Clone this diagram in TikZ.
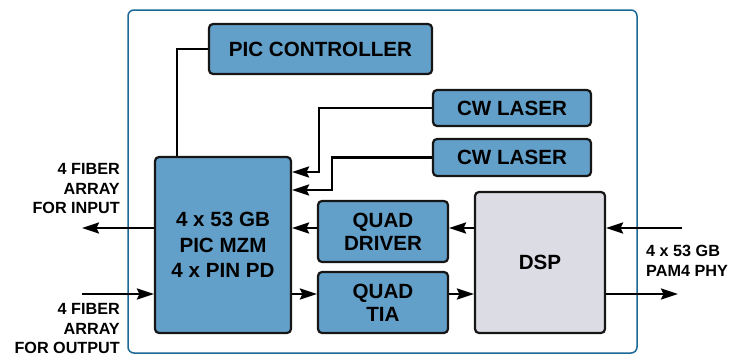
\documentclass[tikz,border=0pt]{standalone}
\usepackage{fontspec}
\setmainfont{Liberation Sans}
\usepackage{xcolor}
\usetikzlibrary{arrows.meta,positioning,calc}

\definecolor{picblue}{RGB}{99,160,201}
\definecolor{dspgray}{RGB}{220,220,228}
\definecolor{framecol}{RGB}{27,104,150}
\definecolor{edgecol}{RGB}{22,22,22}

\begin{document}
\begin{tikzpicture}[x=1pt,y=-1pt,
    >={Stealth[length=17pt,width=11pt,inset=2.5pt]},
    blk/.style={draw=edgecol, line width=2.2pt, fill=picblue, rounded corners=4pt,
        align=center, inner sep=0pt, font=\bfseries\fontsize{20.6}{23}\selectfont},
    dspblk/.style={blk, fill=dspgray},
    conn/.style={draw=black, line width=2.5pt},
    lbl/.style={inner sep=0pt, font=\bfseries\fontsize{16.2}{19.5}\selectfont}]
    \useasboundingbox (0,0) rectangle (744,356);

    % Module frame
    \draw[framecol, line width=1.5pt, rounded corners=6pt] (128,10) rectangle (637,353);

    % Blocks
    \node[blk, minimum width=223pt, minimum height=50pt] (ctrl) at (320.5,49) {PIC CONTROLLER};
    \node[blk, minimum width=158pt, minimum height=36pt] (las1) at (512,108) {CW LASER};
    \node[blk, minimum width=158pt, minimum height=37pt] (las2) at (512,157.5) {CW LASER};
    \node[blk, minimum width=136pt, minimum height=176pt,
        font=\bfseries\fontsize{20.6}{25.5}\selectfont] (main) at (223,245)
        {4 x 53 GB\\PIC MZM\\4 x PIN PD};
    \node[blk, minimum width=130pt, minimum height=61pt] (drv) at (383,231.5) {QUAD\\DRIVER};
    \node[blk, minimum width=130pt, minimum height=61pt] (tia) at (383,302.5) {QUAD\\TIA};
    \node[dspblk, minimum width=130pt, minimum height=141pt] (dsp) at (540,262.5) {DSP};

    % Outside ends
    \coordinate (fibin) at (82,228);
    \coordinate (fibout) at (82,294);
    \coordinate (phyin) at (682,228);
    \coordinate (phyout) at (678,294);

    % Connectors
    \draw[conn] (ctrl.west) -| ($(main.north)+(-46,0)$);
    \draw[conn,->] (las1.west) -| ($(main.east)+(27,-73)$) -- ($(main.east)+(0,-73)$);
    \draw[conn,->] (las2.west) -| ($(main.east)+(40,-55)$) -- ($(main.east)+(0,-55)$);
    \draw[conn,->] ($(drv.west)+(0,-3.5)$) -- ($(main.east)+(0,-17)$);
    \draw[conn,->] ($(main.east)+(0,49)$) -- ($(tia.west)+(0,-8.5)$);
    \draw[conn,->] ($(dsp.west)+(0,-34.5)$) -- ($(drv.east)+(0,-3.5)$);
    \draw[conn,->] ($(tia.east)+(0,-8.5)$) -- ($(dsp.west)+(0,31.5)$);
    \draw[conn,->] (phyin) -- ($(dsp.east)+(0,-34.5)$);
    \draw[conn,->] ($(dsp.east)+(0,31.5)$) -- (phyout);
    \draw[conn,->] ($(main.west)+(0,-17)$) -- (fibin);
    \draw[conn,->] (fibout) -- ($(main.west)+(0,49)$);

    % Labels
    \node[lbl, anchor=east, align=right] (inlbl) at (120,189) {4 FIBER\\ARRAY\\FOR INPUT};
    \node[lbl, anchor=east, align=right] (outlbl) at (120,329) {4 FIBER\\ARRAY\\FOR OUTPUT};
    \node[lbl, anchor=west, align=left] (phylbl) at (646,261) {4 x 53 GB\\PAM4 PHY};
\end{tikzpicture}
\end{document}
